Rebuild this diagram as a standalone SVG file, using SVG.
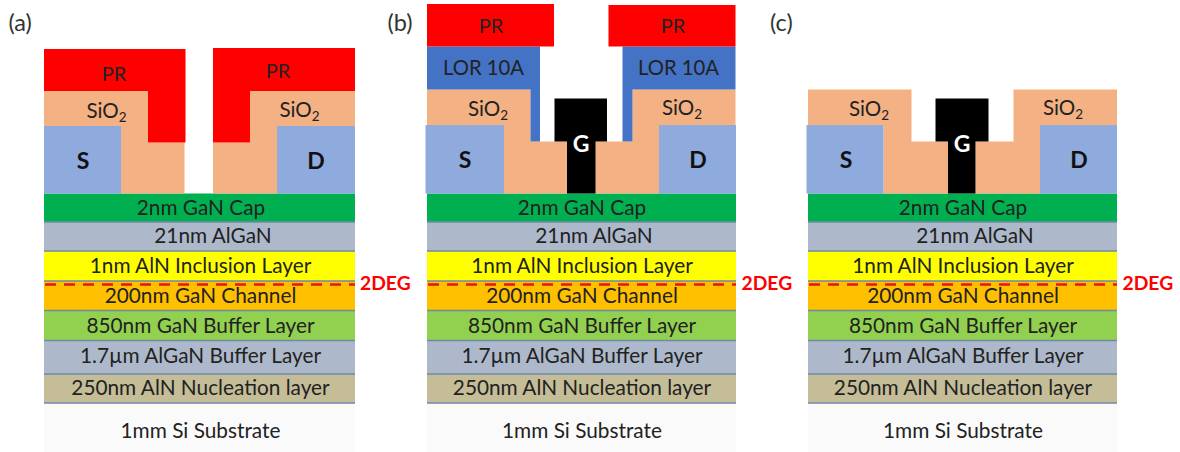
<svg xmlns="http://www.w3.org/2000/svg" width="1180" height="452" viewBox="0 0 1180 452">
<style>
text{font-family:"Lato","Open Sans","Liberation Sans",sans-serif;font-size:20.800px;fill:#222;text-anchor:middle}
.pl{fill:#333;text-anchor:start;font-size:23.500px}
.pr-t{font-size:20px}
.lt{font-size:20.300px}
.ox-t{font-size:20.500px}
.b{font-weight:700;fill:#111;font-size:23px}
.g{font-weight:700;fill:#fff;font-size:23px}
.deg{font-weight:700;fill:#f00;font-size:19.300px;text-anchor:start}
.sub{font-size:13.500px}
.pr{fill:#f00}.ox{fill:#f4b183}.me{fill:#8faadc}.lor{fill:#4472c4}.gt{fill:#000}
.cap{fill:#00b050}.al{fill:#adb9ca}.inc{fill:#ff0}.ch{fill:#ffc000}.buf{fill:#92d050}.nuc{fill:#c4bd97}.si{fill:#fafafa}
.sep{stroke:#6f8aa6;stroke-width:1.6;fill:none}
.dash{stroke:#e8131c;stroke-width:2.4;stroke-dasharray:11 8;fill:none}
</style>
<g id="panel-a">
<text class="pl" x="8.500" y="31">(a)</text>
<g id="a-stack">
<rect class="cap" x="44" y="193.500" width="311" height="28.500"/>
<rect class="al" x="44" y="222" width="311" height="29"/>
<rect class="inc" x="44" y="251" width="311" height="30"/>
<rect class="ch" x="44" y="281" width="311" height="29.500"/>
<rect class="buf" x="44" y="310.500" width="311" height="30"/>
<rect class="al" x="44" y="340.500" width="311" height="33.500"/>
<rect class="nuc" x="44" y="374" width="311" height="29"/>
<rect class="si" x="44" y="403" width="311" height="49"/>
<path class="sep" d="M44 222H355M44 251H355M44 281H355M44 310.500H355M44 340.500H355M44 374H355M44 403H355"/>
</g>
<polygon class="ox" points="44,91 148,91 148,142.500 184.500,142.500 184.500,193.500 121,193.500 121,126 44,126"/>
<polygon class="ox" points="213,142.500 250,142.500 250,91 355,91 355,126 277,126 277,193.500 213,193.500"/>
<rect class="me" x="44" y="126" width="77" height="67.500"/>
<rect class="me" x="277" y="126" width="78" height="67.500"/>
<polygon class="pr" points="44,49 185.500,49 185.500,142.500 148,142.500 148,91 44,91"/>
<polygon class="pr" points="213,48 355,48 355,91 250,91 250,142.500 213,142.500"/>
<text class="pr-t" x="114" y="81">PR</text>
<text class="pr-t" x="278" y="78">PR</text>
<text class="ox-t" x="106.500" y="117.500">SiO<tspan class="sub" dy="4">2</tspan></text>
<text class="ox-t" x="299.500" y="116.500">SiO<tspan class="sub" dy="4">2</tspan></text>
<text class="b" x="83" y="169">S</text>
<text class="b" x="316" y="169">D</text>
<text x="201" y="215">2nm GaN Cap</text>
<text x="213" y="243">21nm AlGaN</text>
<text x="200.500" y="273">1nm AlN Inclusion Layer</text>
<text x="200.500" y="302.500">200nm GaN Channel</text>
<text x="200.500" y="332.500">850nm GaN Buffer Layer</text>
<text x="200.500" y="362.500">1.7µm AlGaN Buffer Layer</text>
<text x="200.500" y="395">250nm AlN Nucleation layer</text>
<text x="200.500" y="438">1mm Si Substrate</text>
</g>
<g id="panel-b">
<text class="pl" x="387.500" y="31">(b)</text>
<g id="b-stack">
<rect class="cap" x="427" y="193.500" width="309" height="28.500"/>
<rect class="al" x="427" y="222" width="309" height="29"/>
<rect class="inc" x="427" y="251" width="309" height="30"/>
<rect class="ch" x="427" y="281" width="309" height="29.500"/>
<rect class="buf" x="427" y="310.500" width="309" height="30"/>
<rect class="al" x="427" y="340.500" width="309" height="33.500"/>
<rect class="nuc" x="427" y="374" width="309" height="29"/>
<rect class="si" x="427" y="403" width="309" height="49"/>
<path class="sep" d="M427 222H736M427 251H736M427 281H736M427 310.500H736M427 340.500H736M427 374H736M427 403H736"/>
</g>
<polygon class="ox" points="427,89.500 530.500,89.500 530.500,141.500 567,141.500 567,193.500 504,193.500 504,125 427,125"/>
<polygon class="ox" points="595,141.500 632.500,141.500 632.500,89.500 735.500,89.500 735.500,125 659,125 659,193.500 595,193.500"/>
<rect class="me" x="425.500" y="125" width="78.500" height="68.500"/>
<rect class="me" x="659" y="125" width="77" height="68.500"/>
<polygon class="lor" points="427,46.500 540,46.500 540,141.500 530.500,141.500 530.500,89.500 427,89.500"/>
<polygon class="lor" points="622.500,46.500 735.500,46.500 735.500,89.500 632.500,89.500 632.500,141.500 622.500,141.500"/>
<rect class="pr" x="427" y="4" width="127" height="42.500"/>
<rect class="pr" x="608.500" y="5" width="127" height="41.500"/>
<polygon class="gt" points="554.500,98.500 607,98.500 607,141.500 595.500,141.500 595.500,193.500 567,193.500 567,141.500 554.500,141.500"/>
<text class="g" x="581" y="152">G</text>
<text class="pr-t" x="491" y="33">PR</text>
<text class="pr-t" x="673" y="33">PR</text>
<text class="lt" x="483.500" y="75">LOR 10A</text>
<text class="lt" x="678.500" y="75">LOR 10A</text>
<text class="ox-t" x="488" y="116">SiO<tspan class="sub" dy="4">2</tspan></text>
<text class="ox-t" x="682" y="115">SiO<tspan class="sub" dy="4">2</tspan></text>
<text class="b" x="465" y="168">S</text>
<text class="b" x="698" y="168">D</text>
<text x="582" y="215">2nm GaN Cap</text>
<text x="594" y="243">21nm AlGaN</text>
<text x="582" y="273">1nm AlN Inclusion Layer</text>
<text x="582" y="302.500">200nm GaN Channel</text>
<text x="582" y="332.500">850nm GaN Buffer Layer</text>
<text x="582" y="362.500">1.7µm AlGaN Buffer Layer</text>
<text x="582" y="395">250nm AlN Nucleation layer</text>
<text x="582" y="438">1mm Si Substrate</text>
</g>
<g id="panel-c">
<text class="pl" x="770" y="31">(c)</text>
<g id="c-stack">
<rect class="cap" x="808" y="193.500" width="309" height="28.500"/>
<rect class="al" x="808" y="222" width="309" height="29"/>
<rect class="inc" x="808" y="251" width="309" height="30"/>
<rect class="ch" x="808" y="281" width="309" height="29.500"/>
<rect class="buf" x="808" y="310.500" width="309" height="30"/>
<rect class="al" x="808" y="340.500" width="309" height="33.500"/>
<rect class="nuc" x="808" y="374" width="309" height="29"/>
<rect class="si" x="808" y="403" width="309" height="49"/>
<path class="sep" d="M808 222H1117M808 251H1117M808 281H1117M808 310.500H1117M808 340.500H1117M808 374H1117M808 403H1117"/>
</g>
<polygon class="ox" points="808,89.500 911.500,89.500 911.500,141.500 948,141.500 948,193.500 883.500,193.500 883.500,125 808,125"/>
<polygon class="ox" points="975.500,141.500 1013.500,141.500 1013.500,89.500 1117,89.500 1117,125 1040,125 1040,193.500 975.500,193.500"/>
<rect class="me" x="806.500" y="125" width="77" height="68.500"/>
<rect class="me" x="1040" y="125" width="77" height="68.500"/>
<polygon class="gt" points="935.500,98.500 988.500,98.500 988.500,141.500 975.500,141.500 975.500,193.500 948,193.500 948,141.500 935.500,141.500"/>
<text class="g" x="962" y="152">G</text>
<text class="ox-t" x="869" y="116">SiO<tspan class="sub" dy="4">2</tspan></text>
<text class="ox-t" x="1063" y="115">SiO<tspan class="sub" dy="4">2</tspan></text>
<text class="b" x="846" y="168">S</text>
<text class="b" x="1079" y="168">D</text>
<text x="963" y="215">2nm GaN Cap</text>
<text x="975" y="243">21nm AlGaN</text>
<text x="963" y="273">1nm AlN Inclusion Layer</text>
<text x="963" y="302.500">200nm GaN Channel</text>
<text x="963" y="332.500">850nm GaN Buffer Layer</text>
<text x="963" y="362.500">1.7µm AlGaN Buffer Layer</text>
<text x="963" y="395">250nm AlN Nucleation layer</text>
<text x="963" y="438">1mm Si Substrate</text>
</g>
<g id="connectors">
<path class="dash" d="M45 284.500H355"/>
<path class="dash" d="M428 284.500H736"/>
<path class="dash" d="M809 284.500H1117"/>
</g>
<text class="deg" x="360" y="290">2DEG</text>
<text class="deg" x="741.500" y="290">2DEG</text>
<text class="deg" x="1122.500" y="290">2DEG</text>
</svg>
